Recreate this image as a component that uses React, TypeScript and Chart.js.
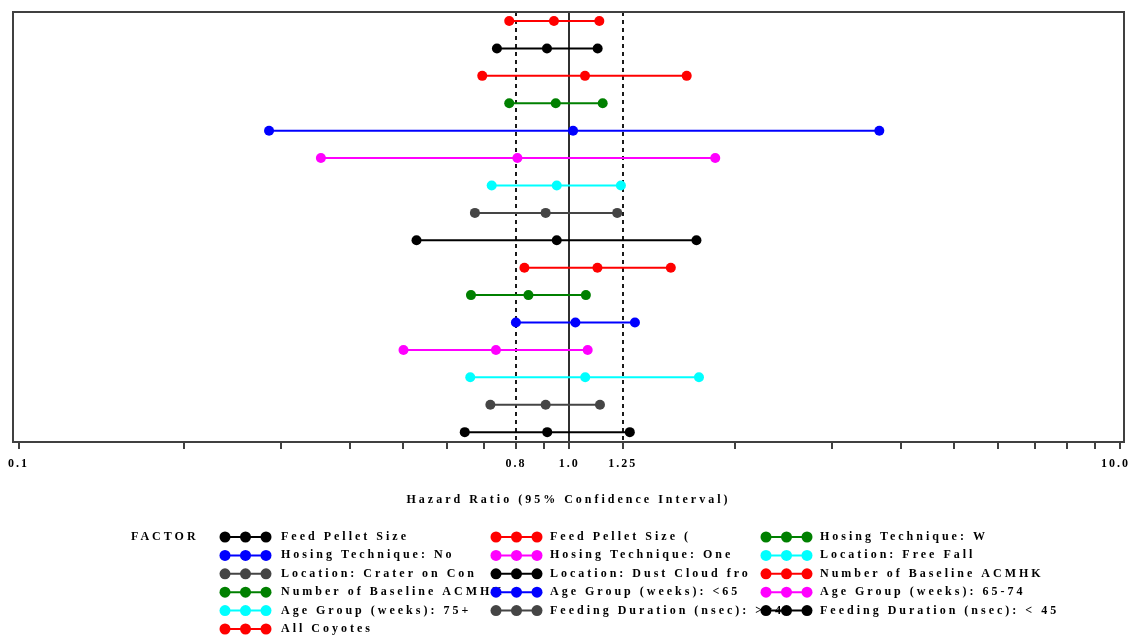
import React, { useEffect, useRef } from "react";
import { Chart, registerables } from "chart.js";

Chart.register(...registerables);

const FACTORS = [
  "Feed Pellet Size",
  "Feed Pellet Size (",
  "Hosing Technique: W",
  "Hosing Technique: No",
  "Hosing Technique: One",
  "Location: Free Fall",
  "Location: Crater on Con",
  "Location: Dust Cloud fro",
  "Number of Baseline ACMHK",
  "Number of Baseline ACMHK",
  "Age Group (weeks): <65",
  "Age Group (weeks): 65-74",
  "Age Group (weeks): 75+",
  "Feeding Duration (nsec): >=45",
  "Feeding Duration (nsec): < 45",
  "All Coyotes",
];
const COLORS = [
  "#000000", "#ff0000", "#008000", "#0000ff", "#ff00ff", "#00ffff", "#454545", "#000000",
  "#ff0000", "#008000", "#0000ff", "#ff00ff", "#00ffff", "#454545", "#000000", "#ff0000",
];
// row position of each factor, 0 = top row
const ROW = [15, 9, 10, 11, 12, 13, 14, 8, 2, 3, 4, 5, 6, 7, 1, 0];
const LOWER = [0.646, 0.829, 0.663, 0.8, 0.5, 0.661, 0.719, 0.528, 0.695, 0.778, 0.285, 0.354, 0.723, 0.674, 0.739, 0.778];
const HR = [0.912, 1.125, 0.843, 1.026, 0.736, 1.069, 0.906, 0.949, 1.068, 0.945, 1.016, 0.805, 0.949, 0.906, 0.911, 0.938];
const UPPER = [1.288, 1.529, 1.072, 1.316, 1.08, 1.72, 1.137, 1.702, 1.634, 1.15, 3.656, 1.841, 1.241, 1.222, 1.126, 1.134];

const X_TICKS = [0.1, 0.2, 0.3, 0.4, 0.5, 0.6, 0.7, 0.8, 0.9, 1, 1.25, 2, 3, 4, 5, 6, 7, 8, 9, 10];
const X_TICK_VALUES = [0.1, 0.8, 1, 1.25, 10];
const X_TICK_TEXT = ["0.1", "0.8", "1.0", "1.25", "10.0"];
const REF_DASHED = [0.8, 1.25];
const REF_SOLID = [1.0];
const X_TITLE = "Hazard Ratio (95% Confidence Interval)";
const LEGEND_TITLE = "FACTOR";

const FONT = "bold 12px 'Liberation Serif', serif";

const refLines = {
  id: "refLines",
  beforeDatasetsDraw(chart: any) {
    const { ctx, chartArea: a, scales } = chart;
    const x = scales.x;
    ctx.save();
    ctx.lineWidth = 2;
    ctx.strokeStyle = "#1a1a1a";
    ctx.setLineDash([4, 4]);
    for (const v of REF_DASHED) {
      const px = Math.round(x.getPixelForValue(v));
      ctx.beginPath();
      ctx.moveTo(px, a.top);
      ctx.lineTo(px, a.bottom);
      ctx.stroke();
    }
    ctx.setLineDash([]);
    ctx.strokeStyle = "#303030";
    for (const v of REF_SOLID) {
      const px = Math.round(x.getPixelForValue(v));
      ctx.beginPath();
      ctx.moveTo(px, a.top);
      ctx.lineTo(px, a.bottom);
      ctx.stroke();
    }
    ctx.restore();
  },
  afterDraw(chart: any) {
    const { ctx, chartArea: a, scales } = chart;
    const x = scales.x;
    ctx.save();
    // frame
    ctx.lineWidth = 2;
    ctx.strokeStyle = "#404040";
    ctx.strokeRect(a.left, a.top, a.right - a.left, a.bottom - a.top);
    ctx.fillStyle = "#000";
    ctx.font = FONT;
    ctx.textBaseline = "middle";
    // tick labels
    (ctx as any).letterSpacing = "2px";
    ctx.textAlign = "left";
    X_TICK_VALUES.forEach((v, i) => {
      const t = X_TICK_TEXT[i];
      const w = ctx.measureText(t).width;
      let left = x.getPixelForValue(v) - w / 2;
      left = Math.max(6, Math.min(1130 - w, left));
      ctx.fillText(t, left, 464);
    });
    // axis title
    (ctx as any).letterSpacing = "3px";
    ctx.textAlign = "center";
    ctx.fillText(X_TITLE, (a.left + a.right) / 2, 500);
    // legend
    ctx.textAlign = "left";
    ctx.fillText(LEGEND_TITLE, 131, 537);
    const symX = [225, 496, 766];
    const txtX = [281, 550, 820];
    const rowY = (r: number) => 537 + r * 18.4;
    FACTORS.forEach((f, i) => {
      const c = i % 3;
      const r = Math.floor(i / 3);
      ctx.fillStyle = "#000";
      ctx.fillText(f, txtX[c], rowY(r));
    });
    (ctx as any).letterSpacing = "0px";
    FACTORS.forEach((f, i) => {
      const c = i % 3;
      const r = Math.floor(i / 3);
      const y = rowY(r);
      const x0 = symX[c];
      ctx.strokeStyle = COLORS[i];
      ctx.fillStyle = COLORS[i];
      ctx.lineWidth = 2;
      ctx.beginPath();
      ctx.moveTo(x0, y);
      ctx.lineTo(x0 + 41, y);
      ctx.stroke();
      for (const dx of [0, 20.5, 41]) {
        ctx.beginPath();
        ctx.arc(x0 + dx, y, 5.5, 0, Math.PI * 2);
        ctx.fill();
      }
    });
    ctx.restore();
  },
};

export default function App() {
  const ref = useRef<HTMLCanvasElement | null>(null);
  useEffect(() => {
    if (!ref.current) return;
    const datasets = FACTORS.map((f, i) => ({
      label: f,
      data: [
        { x: LOWER[i], y: ROW[i] },
        { x: HR[i], y: ROW[i] },
        { x: UPPER[i], y: ROW[i] },
      ],
      showLine: true,
      borderColor: COLORS[i],
      backgroundColor: COLORS[i],
      borderWidth: 2,
      pointRadius: 5,
      pointBorderWidth: 0,
      pointStyle: "circle",
    }));
    const chart = new Chart(ref.current, {
      type: "scatter",
      data: { datasets },
      plugins: [refLines],
      options: {
        animation: false,
        responsive: false,
        layout: { padding: { left: 13, top: 12, right: 8, bottom: 0 } },
        plugins: { legend: { display: false }, tooltip: { enabled: false } },
        scales: {
          x: {
            type: "logarithmic",
            min: 0.0977,
            max: 10.17,
            afterBuildTicks: (s: any) => {
              s.ticks = X_TICKS.map((v) => ({ value: v }));
            },
            afterFit: (s: any) => {
              s.height = 193;
              s.paddingLeft = 0;
              s.paddingRight = 0;
            },
            grid: {
              display: true,
              drawOnChartArea: false,
              drawTicks: true,
              tickLength: 7,
              color: "#404040",
              lineWidth: 2,
            },
            border: { display: false },
            ticks: {
              autoSkip: false,
              maxRotation: 0,
              minRotation: 0,
              padding: 6,
              color: "#000",
              font: { family: "'Liberation Serif', serif", size: 12, weight: "bold" },
              callback: () => "",
            },
            title: { display: false },
          },
          y: {
            type: "linear",
            display: false,
            reverse: true,
            min: -0.33,
            max: 15.36,
          },
        },
      } as any,
    });
    return () => chart.destroy();
  }, []);
  return (
    <div style={{ position: "absolute", left: 0, top: 0, width: 1132, height: 635, background: "#fff" }}>
      <canvas ref={ref} width={1132} height={635} style={{ display: "block" }} />
    </div>
  );
}
